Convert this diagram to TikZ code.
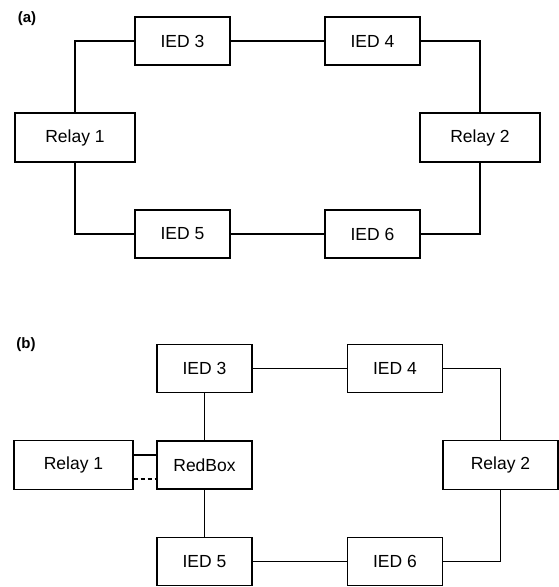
\documentclass[tikz,border=0pt]{standalone}
\usepackage{fontspec}
\setmainfont{Liberation Sans}
\begin{document}
\begin{tikzpicture}[x=1pt,y=-1pt,
  box/.style={draw, line width=1.2pt, inner sep=0pt, minimum width=95pt, minimum height=48pt, font=\fontsize{17.5}{20}\selectfont},
  relay/.style={box, minimum width=120pt, minimum height=49pt},
  wire/.style={line width=1.2pt},
  panel/.style={font=\bfseries\fontsize{15}{18}\selectfont}]
\useasboundingbox (0,0) rectangle (559,587);
% panel (a)
\node[panel] (la) at (27,19) {(a)};
\node[box] (a3) at (182.5,41) {IED 3};
\node[box] (a4) at (372.5,41) {IED 4};
\node[relay] (a1) at (75,137.5) {Relay 1};
\node[relay] (a2) at (480,137.5) {Relay 2};
\node[box] (a5) at (182.5,234) {IED 5};
\node[box] (a6) at (372.5,234) {IED 6};
\draw[wire] (a1.north) |- (a3.west);
\draw[wire] (a3.east) -- (a4.west);
\draw[wire] (a4.east) -| (a2.north);
\draw[wire] (a1.south) |- (a5.west);
\draw[wire] (a5.east) -- (a6.west);
\draw[wire] (a6.east) -| (a2.south);
% panel (b)
\node[panel] (lb) at (26,345) {(b)};
\node[box] (b3) at (204.5,368.5) {IED 3};
\node[box] (b4) at (395,368.5) {IED 4};
\node[relay, minimum width=119pt] (b1) at (73.5,465) {Relay 1};
\node[box] (rb) at (204.5,465) {RedBox};
\node[relay, minimum width=115pt] (b2) at (500.5,465) {Relay 2};
\node[box] (b5) at (204.5,561.5) {IED 5};
\node[box] (b6) at (395,561.5) {IED 6};
\coordinate (ys) at (0,455);
\coordinate (yd) at (0,479);
\draw[wire] (b3.south) -- (rb.north);
\draw[wire] (rb.south) -- (b5.north);
\draw[wire] (b3.east) -- (b4.west);
\draw[wire] (b4.east) -| (b2.north);
\draw[wire] (b5.east) -- (b6.west);
\draw[wire] (b6.east) -| (b2.south);
\draw[wire] (b1.east |- ys) -- (rb.west |- ys);
\draw[wire, dash pattern=on 4pt off 3pt] (b1.east |- yd) -- (rb.west |- yd);
\end{tikzpicture}
\end{document}
